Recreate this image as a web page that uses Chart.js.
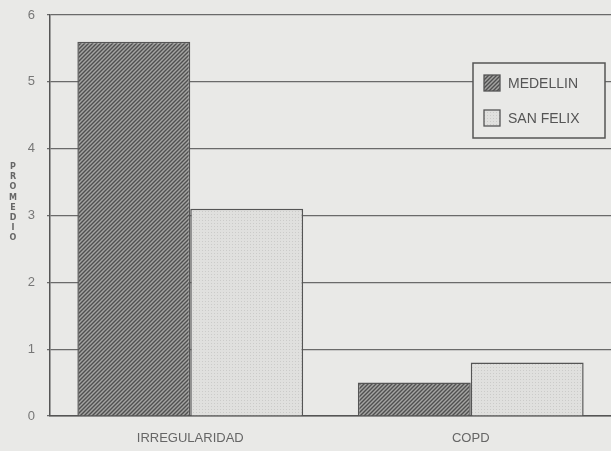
<!DOCTYPE html>
<html>
<head>
<meta charset="utf-8">
<script src="https://cdn.jsdelivr.net/npm/chart.js@4"></script>
<style>
  html, body { margin: 0; padding: 0; background: #e9e9e7; }
  #wrap { width: 611px; height: 451px; }
</style>
</head>
<body>
<div id="wrap"><canvas id="grafico" width="611" height="451"></canvas></div>
<script>
// datos
const categorias = ['IRREGULARIDAD', 'COPD'];
const medellin = [5.6, 0.5];
const sanFelix = [3.1, 0.8];
const series = ['MEDELLIN', 'SAN FELIX'];
const tituloY = 'PROMEDIO';

const fondo = '#e9e9e7';
const tinta = '#555555';

// trama rayada para Medellin
function trama() {
    const c = document.createElement('canvas');
    c.width = 4; c.height = 4;
    const g = c.getContext('2d');
    g.fillStyle = '#a4a4a2';
    g.fillRect(0, 0, 4, 4);
    g.strokeStyle = '#505050';
    g.lineWidth = 1.4;
    g.beginPath();
    g.moveTo(0, 4); g.lineTo(4, 0);
    g.moveTo(-1, 1); g.lineTo(1, -1);
    g.moveTo(3, 5); g.lineTo(5, 3);
    g.stroke();
    return g.createPattern(c, 'repeat');
}

// punteado claro para San Felix
function punteado() {
    const c = document.createElement('canvas');
    c.width = 3; c.height = 3;
    const g = c.getContext('2d');
    g.fillStyle = '#e0e0de';
    g.fillRect(0, 0, 3, 3);
    g.fillStyle = '#cbcbc9';
    g.fillRect(1, 1, 1, 1);
    return g.createPattern(c, 'repeat');
}

const rayas = trama();
const puntos = punteado();

// titulo vertical con letras apiladas + leyenda con marco
const extras = {
    id: 'extras',
    afterDraw(chart) {
        const ctx = chart.ctx;
        ctx.save();
        ctx.fillStyle = '#666';
        ctx.font = 'bold 8px "DejaVu Sans", Arial, sans-serif';
        ctx.textAlign = 'center';
        ctx.textBaseline = 'middle';
        tituloY.split('').forEach(function (l, i) {
            ctx.fillText(l, 13, 167 + i * 10.2);
        });

        // leyenda
        const x = 473, y = 63, w = 132, h = 75;
        ctx.fillStyle = fondo;
        ctx.fillRect(x, y, w, h);
        ctx.strokeStyle = tinta;
        ctx.lineWidth = 1.5;
        ctx.strokeRect(x, y, w, h);
        const rellenos = [rayas, puntos];
        series.forEach(function (s, i) {
            const cy = 83 + i * 35;
            ctx.fillStyle = rellenos[i];
            ctx.fillRect(484, cy - 8, 16, 16);
            ctx.strokeStyle = tinta;
            ctx.lineWidth = 1.3;
            ctx.strokeRect(484, cy - 8, 16, 16);
            ctx.fillStyle = '#555';
            ctx.font = '14px "Liberation Sans", Arial, sans-serif';
            ctx.textAlign = 'left';
            ctx.fillText(s, 508, cy + 1);
        });
        ctx.restore();
    }
};

new Chart(document.getElementById('grafico'), {
    type: 'bar',
    data: {
        labels: categorias,
        datasets: [
            { label: series[0], data: medellin, backgroundColor: rayas, borderColor: tinta, borderWidth: 1.5 },
            { label: series[1], data: sanFelix, backgroundColor: puntos, borderColor: tinta, borderWidth: 1.5 }
        ]
    },
    options: {
        responsive: false,
        animation: false,
        layout: { padding: { top: 15, right: 0, left: 0, bottom: 0 } },
        datasets: { bar: { barPercentage: 1, categoryPercentage: 0.805 } },
        plugins: { legend: { display: false }, tooltip: { enabled: false } },
        scales: {
            x: {
                grid: { display: false },
                border: { color: tinta, width: 1.5 },
                ticks: { color: '#666', font: { family: '"Liberation Sans", Arial', size: 13 }, padding: 7 },
                afterFit: function (s) { s.height = 35; s.paddingLeft = 0; s.paddingRight = 0; }
            },
            y: {
                min: 0, max: 6,
                ticks: { stepSize: 1, color: '#777', font: { family: '"Liberation Sans", Arial', size: 13 }, padding: 12 },
                grid: { color: '#6a6a6a', lineWidth: 1.2, tickLength: 3 },
                border: { color: tinta, width: 1.5 },
                afterFit: function (s) { s.width = 50; s.paddingTop = 0; s.paddingBottom = 0; }
            }
        }
    },
    plugins: [extras]
});
</script>
</body>
</html>
